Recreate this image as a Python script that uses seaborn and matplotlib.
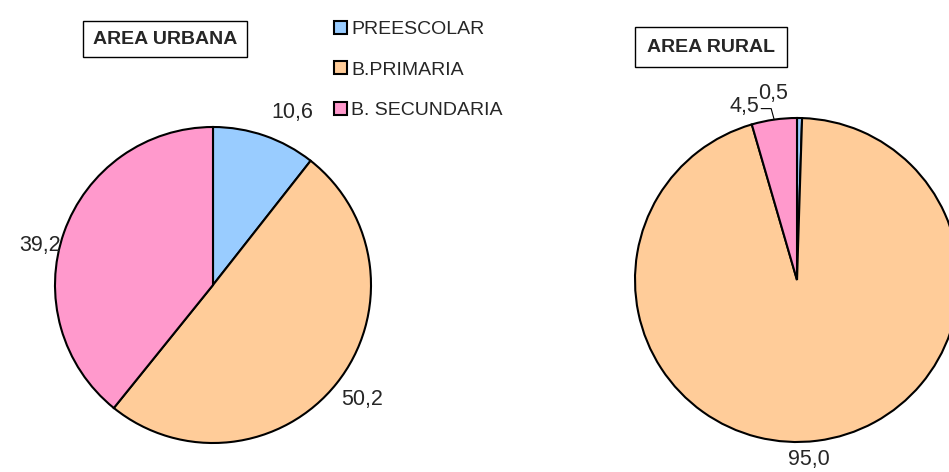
import numpy as np
import matplotlib
matplotlib.use("Agg")
import matplotlib.pyplot as plt
import seaborn as sns

## data
categorias = ["PREESCOLAR", "B.PRIMARIA", "B. SECUNDARIA"]
urbana = [10.6, 50.2, 39.2]
rural = [0.5, 95.0, 4.5]
colores = ["#99CCFF", "#FFCC99", "#FF99CC"]

sns.set_style("white")
plt.rcParams['font.family'] = ['Liberation Sans', 'DejaVu Sans']

fig = plt.figure(figsize=(9.49, 4.72), dpi=100)
ax = fig.add_axes([0, 0, 1, 1])

# pies (centre / radius in pixels, y up)
pies = [
    (urbana, (213, 187), 158, [(-5.5, 1.20), (0.9, 1.19), (6.6, 1.12)]),
    (rural, (797, 192), 162, [(8.2, 1.16), (-3.4, 1.11), (8.6, 1.12)]),
]

for vals, c, r, lab in pies:
    wedges, _ = ax.pie(vals, colors=colores, startangle=90, counterclock=False,
                       center=c, radius=r,
                       wedgeprops=dict(edgecolor="black", linewidth=1.5))
    tot = sum(vals)
    start = 90.0
    for v, (off, f) in zip(vals, lab):
        mid = start - 360 * v / tot / 2
        start -= 360 * v / tot
        a = np.radians(mid + off)
        ax.text(c[0] + f * r * np.cos(a), c[1] + f * r * np.sin(a),
                f"{v:.1f}".replace(".", ","), ha="center", va="center",
                fontsize=15.5)
        if vals is rural and v == 4.5:
            # leader line for the small slice
            m = np.radians(mid)
            px, py = c[0] + r * np.cos(m), c[1] + r * np.sin(m)
            ax.plot([px - 13, px - 3, px], [py + 11, py + 11, py],
                    color="black", lw=0.8)

ax.set_xlim(0, 949)
ax.set_ylim(0, 472)
ax.set_aspect("equal")
ax.axis("off")

ax.text(165, 433, "AREA URBANA", ha="center", va="center", fontsize=14,
        fontweight="bold",
        bbox=dict(boxstyle="square,pad=0.5", facecolor="white", edgecolor="black", lw=1))
ax.text(711, 425, "AREA RURAL", ha="center", va="center", fontsize=14,
        fontweight="bold",
        bbox=dict(boxstyle="square,pad=0.6", facecolor="white", edgecolor="black", lw=1))

leg = ax.legend(wedges, categorias, loc="upper left", bbox_to_anchor=(0.338, 0.985),
                frameon=False, fontsize=14, handlelength=0.65, handleheight=0.65,
                handletextpad=0.2, labelspacing=1.2, borderaxespad=0.3)
for h in leg.legend_handles:
    h.set_edgecolor("black")
    h.set_linewidth(1.5)

fig.savefig("out.png", dpi=100)
